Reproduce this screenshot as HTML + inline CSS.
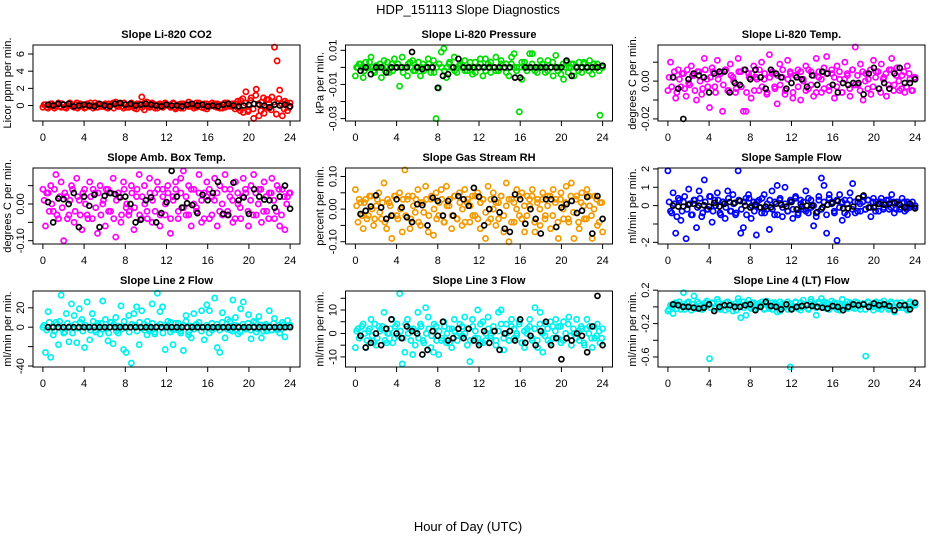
<!DOCTYPE html>
<html><head><meta charset="utf-8"><style>
html,body{margin:0;padding:0;background:#fff;}
svg{display:block;font-family:"Liberation Sans",sans-serif;}
</style></head><body>
<svg id="chart" width="936" height="540" viewBox="0 0 936 540" xmlns="http://www.w3.org/2000/svg">
<text x="468" y="14" text-anchor="middle" font-size="13">HDP_151113  Slope Diagnostics</text>
<text x="468" y="531" text-anchor="middle" font-size="13">Hour of Day (UTC)</text>
</svg>
<script>
const titles = ["Slope Li-820 CO2","Slope Li-820 Pressure","Slope Li-820 Temp.","Slope Amb. Box Temp.","Slope Gas Stream RH","Slope Sample Flow","Slope Line 2 Flow","Slope Line 3 Flow","Slope Line 4 (LT) Flow"];
const yTitles = ["Licor ppm per min.","kPa per min.","degrees C per min.","degrees C per min.","percent per min.","ml/min per min.","ml/min per min.","ml/min per min.","ml/min per min."];
const colors = ["#ff0000","#00dd00","#ff00ff","#ff00ff","#f29a00","#0000ff","#00f0f0","#00f0f0","#00f0f0"];
const yMin = [-1.8,-0.0314,-0.0211,-0.109,-0.107,-2.09,-41,-14.3,-0.72];
const yMax = [7.05,0.0131,0.0191,0.098,0.126,2.05,37.3,18.1,0.19];
const yTicks = [[0,2,4,6],[-0.03,-0.02,-0.01,0,0.01],[-0.02,-0.01,0,0.01],[-0.1,-0.05,0,0.05],[-0.1,-0.05,0,0.05,0.1],[-2,-1,0,1,2],[-40,-20,0,20],[-10,-5,0,5,10,15],[-0.6,-0.4,-0.2,0,0.2]];
const yTickLabels = [["0","2","4","6"],["-0.03","","-0.01","","0.01"],["-0.02","","0.00",""],["-0.10","","0.00",""],["-0.10","","0.00","","0.10"],["-2","","0","1","2"],["-40","","0","20"],["-10","","0","","10",""],["-0.6","","-0.2","","0.2"]];
const xTicks = [0,4,8,12,16,20,24];

const s1 = [-0.2,0.1,-0.3,0.2,0,-0.1,0.3,-0.2,0.1,-0.3,0.2,0,-0.2,0.3,-0.1,0.1,-0.3,0.2,-0.1,0,0.3,-0.2,0.1,-0.1,0.2,-0.3,0,0.3,0.4,-0.1,0.2,-0.3,0.1,-0.2,0.3,0,-0.4,0.2,1.0,-0.5,0.4,-0.2,0.3,0.1,-0.3,0.2,-0.1,0.3,0,-0.2,0.2,-0.4,0.1,-0.3,0.2,0,0.4,-0.1,-0.3,0.3,0.1,-0.2,0.2,-0.4,0,0.3,-0.1,0.2,-0.3,0.1,-0.2,0.3,0,-0.1,0.2,-0.3,0.6,-0.8,1.6,-0.5,0.9,-1.5,1.9,-1.2,0.4,-0.9,0.7,-0.3,1.0,6.8,5.2,1.8,-1.2,0.5,-0.6,0.3];
const s1b = [0.1,-0.2,0,0.2,-0.3,0.1,-0.1,0.2,-0.2,0,0.3,-0.1,0.1,-0.3,0.2,0,-0.2,0.1,0.3,-0.3,0,0.2,-0.1,0.1,-0.2,0.2,0.1,-0.3,0,0.2,-0.1,0.3,-0.2,0.1,0,-0.3,0.2,0.1,-0.2,0.3,0,-0.1,0.2,-0.3,0.1,0,-0.2,0.2,0.1,-0.1,0.3,-0.2,0,0.2,-0.3,0.1,-0.1,0.2,0,-0.2,0.3,0.1,-0.3,0.2,-0.1,0,0.2,-0.2,0.1,-0.3,0.3,0,-0.1,0.2,-0.4,0.5,-0.6,0.8,0.3,-0.7,0.6,-0.4,1.2,0.2,-0.6,0.9,-0.2,0.7,-0.5,0.4,-1.0,0.8,0.2,-0.4,0.3,-0.2];
const b1 = [0.1,0,0.2,0.1,0.2,-0.1,0,0.1,0,-0.1,0.2,0,-0.1,0.2,0.3,0.1,0.2,0,0.1,0.2,0.1,0,-0.1,0.1,0,0,-0.1,0.1,0.2,0,0.1,-0.1,0,-0.1,0.1,0.2,0,-0.1,0,0.1,0.2,0.1,0,-0.2,0.1,0,0.1,-0.1];
const s2 = [-0.005,0,0.002,-0.006,0.003,0,0.006,-0.002,0.001,0,-0.006,0.004,0,-0.003,0.002,0.005,0,-0.011,0.006,0,-0.005,0.003,0.004,-0.002,0,-0.005,0.002,0,0.005,-0.003,0.004,-0.03,-0.012,0.009,0.011,-0.006,0.002,0,0.006,-0.003,0.001,0,0.004,-0.002,0,-0.004,0.003,0,0.005,-0.005,0.005,0.002,-0.003,0,0.006,-0.002,0.004,0,0.002,-0.005,0.006,0.008,0,-0.026,-0.007,0.003,0,0.008,0.008,-0.002,0,0.004,0,-0.003,0.004,0,-0.005,0.007,0,-0.004,-0.007,0.003,0,0.002,-0.005,0,0.003,-0.003,0.002,0,0.004,-0.004,0,0.002,-0.028,0];
const s2b = [0,0.002,0,-0.002,0,0.003,0,-0.003,0,0.002,0,-0.002,0.003,0,-0.002,0,0.002,0,-0.003,0,0.002,0,-0.002,0,0.003,0,-0.002,0,0.002,0,-0.003,0,0.002,0,-0.002,0,0.003,0,-0.002,0,0.002,0,-0.002,0,0.003,0,-0.003,0,0.002,0,-0.002,0,0.003,0,-0.002,0,0.002,0,-0.003,0,0.002,0,-0.002,0,0.003,0,-0.002,0,0.002,0,-0.003,0,0.002,0,-0.002,0,0.003,0,-0.002,0,0.002,0,-0.003,0,0.002,0,-0.002,0,0.003,0,-0.002,0,0.002,0,-0.002,0];
const b2 = [-0.002,0,-0.004,0,0,-0.003,0,0,0,0,0.009,0,-0.001,0,0,-0.012,-0.005,-0.004,0,0.005,0,0,0,0,0,0,0,0,0,0,-0.006,-0.006,0,0,0,0,0,0,0,0,0.004,-0.005,0,0,0,0,0,0.001];
const s3 = [-0.005,0.01,0.002,-0.009,0.006,-0.003,0.004,-0.008,-0.001,0.008,0.003,-0.01,0.005,-0.007,0.012,0.001,-0.014,0.007,-0.003,0.011,0.004,-0.016,0.006,-0.005,0.009,0.002,-0.006,0.012,0.005,-0.016,-0.016,0.004,-0.009,0.008,0.002,-0.005,0.01,0.001,-0.007,0.014,0.004,-0.003,-0.012,0.009,0.002,-0.007,0.011,0.005,-0.009,0.003,0.006,-0.01,0.001,0.008,-0.004,0.005,-0.008,0.012,0.002,-0.006,0.007,0.013,-0.003,0.004,-0.009,0.008,0.001,-0.006,0.01,0.003,-0.008,0.006,0.018,-0.002,0.009,-0.01,0.004,0.001,-0.007,0.011,0.005,-0.004,0.009,0.002,-0.008,0.006,0.012,-0.002,0.007,-0.005,0.003,-0.006,0.008,0.001,-0.005,0.002];
const s3b = [0.002,-0.003,0.005,-0.006,0.001,0.004,-0.004,0.006,-0.002,0.003,-0.005,0.005,0,-0.004,0.006,-0.003,0.002,0.005,-0.006,0.001,0.004,-0.002,0.006,-0.005,0.003,0,-0.004,0.005,-0.003,0.006,-0.006,0.002,0.004,-0.005,0.001,0.006,-0.003,0.004,-0.006,0.002,0.005,-0.004,0.003,-0.002,0.006,-0.005,0.001,0.004,-0.006,0.003,-0.003,0.005,0,-0.005,0.006,-0.002,0.003,-0.006,0.005,0.001,-0.004,0.004,-0.005,0.006,0.002,-0.003,0.005,-0.006,0.001,0.004,-0.004,0.006,-0.002,0.003,-0.005,0.005,0,-0.004,0.006,-0.003,0.002,0.005,-0.006,0.001,0.004,-0.002,0.006,-0.005,0.003,0,-0.004,0.005,-0.003,0.004,-0.005,0.002];
const b3 = [0.002,-0.004,-0.02,0.001,0.004,0.003,0.002,-0.006,0.004,0.005,0.005,-0.006,-0.001,-0.002,0.006,0.001,0.006,0.002,-0.004,0.006,0.004,0.002,-0.004,-0.001,0.002,0.001,-0.003,0.003,-0.002,0.005,0.004,-0.002,-0.006,-0.001,-0.002,-0.001,-0.001,-0.007,0.004,0.007,-0.004,-0.001,-0.004,0.004,0.007,-0.001,-0.001,0.001];
const s4 = [0.04,-0.06,0.03,0.05,-0.02,0.08,-0.04,0.06,-0.1,0.02,-0.03,0.05,-0.05,0.07,0.01,-0.07,0.04,-0.03,0.06,-0.04,0.03,-0.08,0.05,0,-0.06,0.04,-0.02,0.07,-0.09,0.03,-0.05,0.06,-0.01,-0.03,0.05,-0.07,0.02,0.08,-0.04,0.05,-0.02,0.07,-0.05,0.03,0.06,-0.06,0.04,-0.03,0.05,-0.08,0.02,0.06,-0.04,0.07,0.09,-0.03,0.05,-0.06,0.04,-0.01,0.08,-0.05,0.03,0.06,-0.04,0.02,0.07,-0.06,0.05,-0.03,0.08,-0.02,0.04,-0.05,0.06,0,-0.04,0.07,0.03,-0.06,0.05,0.08,-0.03,0.04,-0.05,0.06,-0.02,0.03,0.07,-0.04,0.05,-0.06,0.04,-0.07,0.02,0.03];
const s4b = [0.01,0.03,-0.02,0,0.04,-0.03,0.02,-0.01,0.03,-0.04,0.01,0.04,-0.02,0.02,-0.03,0.03,0,-0.04,0.02,0.04,-0.01,0.03,-0.03,0.01,0.04,-0.02,0.03,-0.04,0.01,0.02,-0.03,0.04,0,-0.02,0.03,-0.01,0.04,-0.03,0.02,0,-0.04,0.03,0.01,-0.02,0.04,-0.03,0.02,0,0.03,-0.04,0.01,0.04,-0.02,0.03,-0.01,0.02,-0.03,0.04,0,-0.02,0.03,0.01,-0.04,0.02,0.04,-0.03,0.01,0.03,-0.02,0,0.04,-0.03,0.02,0.01,-0.04,0.03,-0.01,0.02,0.04,-0.02,0.01,-0.03,0.03,0,0.04,-0.02,0.02,-0.04,0.03,0.01,-0.02,0.04,-0.03,0.02,0,0.03];
const b4 = [0.005,-0.05,0.015,0.013,0,0.03,-0.063,0.02,-0.005,0.025,-0.063,0.022,0.03,0.027,0.018,0.02,0,-0.05,-0.043,0.01,0.018,-0.05,-0.025,0.005,0.09,0.02,-0.01,0.002,-0.003,-0.025,0.025,0.01,0.03,0.06,-0.027,-0.03,0.058,0.01,0.018,-0.027,0.04,0.02,0.012,0.01,-0.01,0.02,0.05,-0.013];
const s5 = [0.06,-0.04,0.02,-0.06,0.03,-0.02,0.04,-0.05,0.01,0.05,-0.03,0.08,-0.06,0.02,-0.09,0.04,-0.02,0.05,-0.07,0.12,0.03,-0.06,0.04,-0.01,0.06,-0.05,0.02,0.07,-0.07,0.03,-0.08,0.05,-0.02,0.06,-0.04,0.07,0.01,-0.06,0.04,-0.03,0.05,-0.05,0.06,0.02,-0.04,0.04,-0.02,0.05,-0.06,0.03,-0.09,0.07,-0.03,0.05,-0.05,0.02,0.04,-0.07,0.08,-0.1,0.03,-0.04,0.06,-0.02,0.05,-0.07,0.04,0.01,0.06,-0.07,0.03,-0.05,0.05,-0.02,0.04,-0.06,0.06,0.03,-0.09,0.05,-0.03,0.07,-0.04,0.08,-0.09,0.04,-0.06,0.05,-0.03,0.06,0.01,-0.09,0.04,-0.05,0.02,-0.07];
const s5b = [0.01,0.03,-0.02,0.02,-0.03,0.04,0,-0.03,0.03,-0.01,0.02,-0.04,0.03,0.01,-0.02,0.04,-0.03,0,0.03,-0.02,0.04,-0.03,0.01,0.03,-0.04,0.02,-0.01,0.03,-0.02,0.04,0,-0.03,0.02,0.03,-0.04,0.01,0.03,-0.02,0.04,-0.03,0.02,0,-0.04,0.03,0.01,-0.02,0.04,-0.03,0.02,0.03,-0.01,-0.04,0.03,0,0.02,-0.03,0.04,-0.02,0.01,0.03,-0.04,0.02,0,0.04,-0.03,0.01,-0.02,0.03,0.04,-0.04,0.02,0,0.03,-0.03,0.01,0.04,-0.02,0.02,-0.04,0.03,0,0.02,-0.03,0.04,-0.01,0.03,-0.04,0.02,0.01,-0.03,0.04,-0.02,0,0.03,-0.04,0.02];
const b5 = [-0.015,-0.005,0.008,0.042,0.005,-0.03,-0.02,0.03,0.005,-0.025,-0.04,0.015,0.012,-0.05,0.035,0.025,-0.02,0.025,-0.02,0.04,0.03,0.01,0.065,0.038,-0.05,0,0.03,-0.01,-0.06,-0.07,0.045,0.03,-0.045,0,-0.03,-0.075,0.03,0.03,-0.055,0.005,0.015,0.025,-0.012,-0.005,0.037,-0.075,0.04,-0.03];
const s6 = [1.9,-0.3,0.7,-1.5,0.4,-0.8,0.2,-1.8,0.9,-0.5,0.3,-1.2,0.8,-0.6,1.4,-0.2,0.5,-0.9,0.3,0.7,-0.4,0.2,-0.7,0.8,-0.3,0.6,-0.5,1.9,-1.5,-1.2,0.4,0.6,-0.7,0.2,-1.6,0.3,-0.4,0.6,-0.2,-1.3,0.8,-0.5,1.1,0.3,-0.6,1.0,-0.3,0.2,-0.7,0.4,-0.5,0.3,-0.2,0.8,-0.4,0.3,-1.1,-0.6,0.5,1.5,1.1,-1.5,0.6,0.2,-0.4,-1.9,0.6,-0.8,0.3,-0.5,0.7,1.2,-0.4,0.2,-0.3,0.5,-0.2,0.3,-0.6,0.4,0.2,-0.3,0.4,-0.1,0.3,-0.2,0.6,-0.4,0.2,-0.2,0.4,-0.3,0.2,-0.1,0.2,0];
const s6b = [0.2,-0.4,0.1,-0.6,0.3,-0.3,0.5,-0.2,0.1,-0.5,0.3,-0.1,0.4,-0.4,0.2,-0.2,0.5,-0.3,0,0.3,-0.5,0.2,-0.1,0.4,-0.3,0.1,-0.4,0.3,-0.2,0.2,-0.5,0.4,0,-0.3,0.2,-0.1,0.4,-0.4,0.1,0.3,-0.2,0.2,-0.5,0.4,-0.1,0.1,-0.3,0.3,-0.2,0.5,-0.4,0.1,0.2,-0.3,0.4,-0.1,0,-0.4,0.3,-0.2,0.2,-0.5,0.4,0.1,-0.3,0.3,-0.1,0.2,-0.4,0.1,0.3,-0.2,0.2,-0.3,0.1,0.2,-0.2,0.3,-0.1,0.2,-0.3,0.1,0.2,-0.2,0.1,0.3,-0.1,0.2,-0.2,0.1,-0.1,0.2,-0.2,0.1,0,-0.1];
const b6 = [0,-0.05,-0.05,0.05,0.1,0,0.02,-0.05,0.15,-0.05,0.1,0.2,0.15,0.25,0,-0.1,0.05,-0.1,-0.05,-0.1,0.1,0.05,-0.05,0.2,-0.2,-0.05,0,0,-0.35,-0.1,0.05,0.15,0.25,-0.15,-0.15,-0.05,0.4,0.55,-0.1,-0.1,0.1,0.05,0.1,0.15,0.05,-0.1,0.1,-0.15];
const s7 = [0,-26,16,-31,-8,5,-18,33,-6,14,-15,24,12,-16,19,8,-21,26,-13,14,-3,4,-7,27,8,-14,5,-17,10,-6,22,-23,-26,12,-37,14,21,-18,17,3,-8,-4,24,-7,35,16,21,-23,6,-5,-18,4,-3,-6,-24,12,-8,-11,14,3,0,17,-13,23,17,-3,30,-21,-26,15,-11,8,-3,28,10,-7,19,26,-2,13,-12,6,-5,11,-11,2,-4,17,-3,9,-3,-6,5,-10,7,2];
const s7b = [2,-3,5,0,-4,3,6,-2,-5,4,1,-6,3,-1,5,-4,2,0,-3,6,-5,2,4,-2,0,-6,5,3,-4,1,-2,6,0,-5,3,2,-4,5,-1,-3,6,-2,4,-5,1,3,-6,2,0,5,-3,-1,4,-4,2,6,-5,1,-2,3,5,-4,0,2,-6,4,-1,3,-3,5,0,-2,6,-4,2,1,-5,3,-1,4,-3,0,5,-2,2,-4,3,1,-3,4,-1,2,-2,3,0,1];
const b7 = [0,0,0,0,0,0,0,0,0,0,0,0,0,0,0,0,0,0,0,0,0,0,0,0,0,0,0,0,0,0,0,0,0,0,0,0,0,0,0,0,0,0,0,0,0,0,0,0];
const s8 = [-6,2,-1,4,-6,1,6,-4,-5,3,2,9,-4,0,6,-2,4,17,-13,-8,6,2,-9,-5,9,4,-3,11,7,-6,-8,3,-9,-3,5,-4,2,-6,6,-1,0,3,7,-5,-12,6,-2,10,-4,5,-3,7,-2,1,-5,9,10,-7,4,-3,6,-2,0,5,-4,-6,2,6,-3,11,-6,9,-8,4,-3,5,-2,6,3,-4,5,-2,7,-5,0,6,-3,2,-5,6,3,-6,-2,4,-4,2];
const s8b = [1,-2,3,0,-3,2,-1,4,-2,1,3,-3,0,2,-4,3,-1,1,-2,4,0,-3,2,1,-2,3,-4,0,2,-1,4,-3,1,-2,3,0,-4,2,1,-3,4,-1,0,2,-3,3,1,-2,4,-4,0,2,-1,3,-3,1,4,-2,0,-3,3,2,-1,4,-4,1,0,3,-2,2,-3,4,0,-1,2,-4,3,1,-2,3,-3,0,4,-1,2,-2,1,3,-4,2,0,-2,3,-1,1,-2];
const b8 = [-1,-6,-4,0,-5,2,6,0,-2,3,1,0,-9,-7,1,-1,5,-3,-2,2,-2,2,-3,-5,1,-4,1,-7,0,1,-3,6,-4,-1,-5,1,5,-5,-2,-11,-2,-3,0,-1,-8,3,16,-5];
const s9 = [-0.05,0.02,-0.08,0.05,0.03,-0.03,0.17,0,0.06,-0.04,0.13,-0.02,0.04,-0.03,0.01,0.07,-0.62,0.05,-0.02,0.09,-0.01,0.03,-0.04,0.06,0.02,-0.05,0.04,0.1,-0.13,0.06,-0.1,0.08,-0.02,0.05,-0.01,0.04,0.02,-0.03,0.07,-0.02,0.05,0.03,-0.06,-0.05,0.04,0,0.06,-0.72,-0.02,0.05,0.01,-0.04,0.08,0.03,-0.02,0.09,0.04,-0.1,0.06,0.1,0.02,0.05,-0.03,0.07,0,0.04,-0.04,0.09,0.03,-0.02,0.05,-0.01,0.06,0.02,-0.03,0.04,-0.59,0.05,0.02,-0.04,0.06,0.01,-0.03,0.07,0.03,-0.02,0.04,-0.06,0.05,0.02,-0.01,0.03,-0.04,0.06,0.01,0.02];
const s9b = [-0.03,0,0.04,-0.02,0.06,0.01,-0.03,0.05,0,0.03,-0.02,0.06,0.01,-0.03,0.05,0.02,-0.01,0.04,0,0.06,-0.03,0.02,0.05,-0.02,0.03,0.01,-0.04,0.06,0.02,-0.01,0.04,0,0.05,-0.03,0.03,0.01,0.06,-0.02,0.04,0,-0.03,0.05,0.02,0.06,-0.01,0.03,-0.03,0.04,0.01,0.06,-0.02,0.05,0,0.03,-0.03,0.06,0.02,-0.01,0.04,0.01,0.06,-0.02,0.03,0,0.05,-0.03,0.04,0.02,-0.01,0.06,0,0.03,-0.02,0.05,0.01,0.04,-0.03,0.06,0.02,0,0.04,-0.02,0.05,0.01,0.03,-0.03,0.06,0,0.04,-0.01,0.05,0.02,-0.02,0.04,0.01,0.03];
const b9 = [0.03,0.02,0,0,-0.01,-0.02,-0.01,0.03,-0.05,0,0.02,0.02,0,0,0.02,0.03,-0.04,0,0.06,0.01,0,-0.03,0.03,-0.03,0,0.01,0.02,0.01,0,-0.01,-0.02,0.01,0,-0.04,0,0.03,0.02,0.03,0,0.04,0.02,0.03,0.01,-0.04,0.02,0.02,-0.03,0.05];

const colorSeries = [s1,s2,s3,s4,s5,s6,s7,s8,s9];
const colorSeriesB = [s1b,s2b,s3b,s4b,s5b,s6b,s7b,s8b,s9b];
const blackSeries = [b1,b2,b3,b4,b5,b6,b7,b8,b9];

const NS = "http://www.w3.org/2000/svg";
const svg = document.getElementById("chart");
function mk(tag, attrs, parent){
  const e = document.createElementNS(NS, tag);
  for (const k in attrs) e.setAttribute(k, attrs[k]);
  (parent||svg).appendChild(e);
  return e;
}
const colX = [33,345.5,658], rowY = [45,168,291], PW = 267, PH = 76;
const X0 = -0.96, X1 = 24.96;

for (let p = 0; p < 9; p++) {
  const bx = colX[p % 3], by = rowY[Math.floor(p / 3)];
  const xs = v => bx + (v - X0) / (X1 - X0) * PW;
  const ys = v => by + PH - (v - yMin[p]) / (yMax[p] - yMin[p]) * PH;
  const g = mk("g", {});
  
  

  const ttl = mk("text", {x: bx + PW / 2, y: by - 7, "text-anchor": "middle", "font-size": "11", "font-weight": "bold"}, g);
  ttl.textContent = titles[p];
  
  

  const yt = mk("text", {x: 0, y: 0, "text-anchor": "middle", "font-size": "11", transform: "translate(" + (bx - 22) + "," + (by + PH / 2) + ") rotate(-90)"}, g);
  yt.textContent = yTitles[p];
  
  

  const pts = mk("g", {fill: "none", "stroke-width": "1.7"}, g);
  
  
  const cs = colorSeries[p];
  for (let i = 0; i < cs.length; i++) {
    const t = i * 24 / (cs.length - 1);
    const c = mk("circle", {cx: xs(t), cy: ys(cs[i]), r: 2.6, stroke: colors[p]}, pts);
    
    
  }
  const cb = colorSeriesB[p];
  for (let i = 0; i < cb.length; i++) {
    const t = 0.12 + i * 23.8 / (cb.length - 1);
    const c = mk("circle", {cx: xs(t), cy: ys(cb[i]), r: 2.6, stroke: colors[p]}, pts);
    
    
  }
  const bs = blackSeries[p];
  const bg = mk("g", {fill: "none", "stroke-width": "1.7"}, g);
  
  
  for (let i = 0; i < bs.length; i++) {
    const t = 0.5 + i * 23.5 / (bs.length - 1);
    const c = mk("circle", {cx: xs(t), cy: ys(bs[i]), r: 2.5, stroke: "#000"}, bg);
    
    
  }

  const box = mk("rect", {x: bx, y: by, width: PW, height: PH, fill: "none", stroke: "#000", "stroke-width": "1"}, g);
  
  

  for (let i = 0; i < xTicks.length; i++) {
    const x = xs(xTicks[i]);
    const tk = mk("line", {x1: x, x2: x, y1: by + PH, y2: by + PH + 5, stroke: "#000"}, g);
    
    
    const tl = mk("text", {x: x, y: by + PH + 20, "text-anchor": "middle", "font-size": "11"}, g);
    tl.textContent = String(xTicks[i]);
    
    
  }
  const tks = yTicks[p], lbs = yTickLabels[p];
  for (let i = 0; i < tks.length; i++) {
    const y = ys(tks[i]);
    const tk = mk("line", {x1: bx - 5, x2: bx, y1: y, y2: y, stroke: "#000"}, g);
    
    
    if (lbs[i]) {
      const tl = mk("text", {x: 0, y: 0, "text-anchor": "middle", "font-size": "11", transform: "translate(" + (bx - 9) + "," + y + ") rotate(-90)"}, g);
      tl.textContent = lbs[i];
      
      
    }
  }
}
</script>
</body></html>
